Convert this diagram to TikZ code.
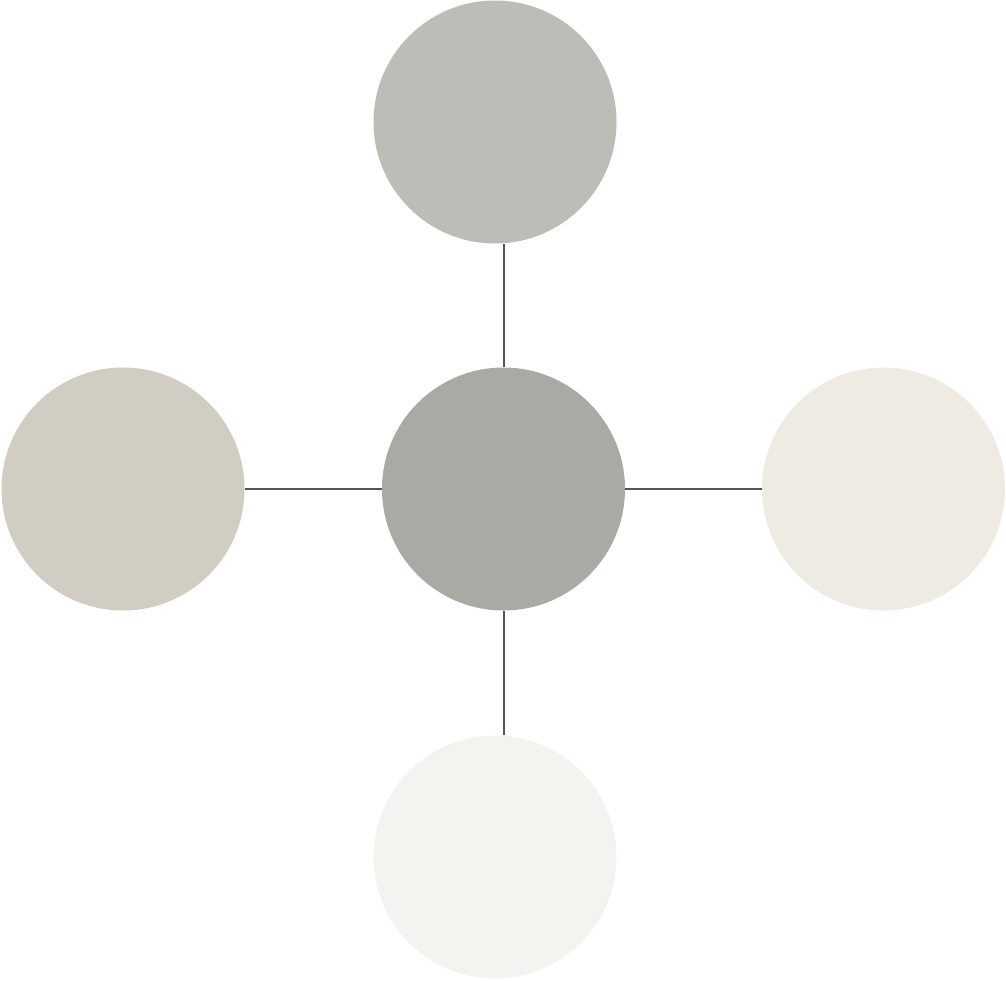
\documentclass[tikz,border=0pt]{standalone}
\definecolor{ctop}{HTML}{BBBDB7}
\definecolor{cleft}{HTML}{D1CDC2}
\definecolor{ccenter}{HTML}{A9AAA3}
\definecolor{cright}{HTML}{EEEBE2}
\definecolor{cbottom}{HTML}{F3F4EF}
\definecolor{linkc}{HTML}{555555}
\begin{document}
\begin{tikzpicture}[x=1pt,y=-1pt,
  blob/.style={circle, draw=none, inner sep=0pt, minimum size=243pt},
  link/.style={draw=linkc, line width=2pt}]
\useasboundingbox (0,0) rectangle (1006,980);
\node[blob, fill=ctop] (t) at (495,122) {};
\node[blob, fill=cleft] (l) at (123,489) {};
\node[blob, fill=ccenter] (c) at (503.5,489) {};
\node[blob, fill=cright] (r) at (883.5,489) {};
\node[blob, fill=cbottom] (b) at (495,857) {};
\draw[link] (c.north) -- (c.north |- t.south);
\draw[link] (c.south) -- (c.south |- b.north);
\draw[link] (c.west) -- (l.east);
\draw[link] (c.east) -- (r.west);
\end{tikzpicture}
\end{document}
